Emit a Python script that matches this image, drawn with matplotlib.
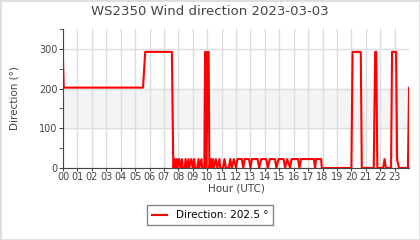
import matplotlib
matplotlib.use("Agg")
import matplotlib.pyplot as plt
from matplotlib.ticker import MultipleLocator

# wind direction readings, hour of day vs degrees
hours = [0.0, 0.05, 5.55, 5.7, 7.55, 7.65,
         7.75, 7.8, 7.9, 7.95, 8.05, 8.15, 8.25, 8.3, 8.45, 8.5, 8.6, 8.7,
         8.75, 8.9, 9.0, 9.1, 9.15, 9.3, 9.4, 9.45, 9.6, 9.65, 9.8,
         9.85, 9.9, 9.95, 10.05, 10.1, 10.15,
         10.25, 10.3, 10.4, 10.45, 10.6, 10.7, 10.85, 10.9, 11.1, 11.2, 11.3,
         11.5, 11.6, 11.7, 11.85, 12.0, 12.1, 12.4, 12.5, 12.6, 12.9, 13.0,
         13.1, 13.5, 13.6, 13.75, 14.1, 14.2, 14.35, 14.7, 14.8, 14.95, 15.3,
         15.4, 15.55, 15.75, 15.85, 16.3, 16.4, 16.5, 17.4, 17.48, 17.55,
         17.9, 17.95, 20.0, 20.08, 20.65, 20.72, 21.55, 21.65, 21.72, 21.8,
         21.88, 22.2, 22.3, 22.4, 22.75, 22.82, 23.1, 23.17, 23.3, 23.92, 24.0]
direction = [270, 202.5, 202.5, 292.5, 292.5, 0,
             22.5, 0, 22.5, 0, 22.5, 0, 22.5, 0, 0, 22.5, 0, 22.5,
             0, 22.5, 0, 22.5, 0, 0, 22.5, 0, 22.5, 0, 0,
             292.5, 292.5, 0, 292.5, 292.5, 0,
             22.5, 0, 22.5, 0, 22.5, 0, 22.5, 0, 0, 22.5, 0,
             0, 22.5, 0, 22.5, 0, 22.5, 22.5, 0, 22.5, 22.5, 0,
             22.5, 22.5, 0, 22.5, 22.5, 0, 22.5, 22.5, 0, 22.5, 22.5,
             0, 22.5, 0, 22.5, 22.5, 0, 22.5, 22.5, 0, 22.5,
             22.5, 0, 0, 292.5, 292.5, 0, 0, 292.5, 292.5, 0,
             0, 0, 22.5, 0, 0, 292.5, 292.5, 22.5, 0, 0, 202.5]
hour_labels = ["%02d" % h for h in range(24)]
last_value = 202.5

fig = plt.figure(figsize=(4.2, 2.4), dpi=100)
fig.patches.append(plt.Rectangle((0, 0), 1, 1, transform=fig.transFigure,
                                 fill=False, edgecolor="#dddddd", linewidth=2))
ax = fig.add_axes([0.15, 0.30, 0.824, 0.579])

ax.axhspan(100, 200, color="#f4f4f4", zorder=0)
line, = ax.plot(hours, direction, color="#ff0000", linewidth=1.5)

ax.set_xlim(0, 24)
ax.set_ylim(0, 350)
ax.set_xticks(range(24))
ax.set_xticklabels(hour_labels)
ax.yaxis.set_major_locator(MultipleLocator(100))
ax.yaxis.set_minor_locator(MultipleLocator(50))
ax.tick_params(axis="both", which="both", labelsize=7, colors="#444444",
               length=3, pad=1)
ax.tick_params(axis="x", length=2)
ax.grid(True, which="major", color="#dddddd", linewidth=1)
ax.set_axisbelow(True)
for s in ["top", "right"]:
    ax.spines[s].set_visible(False)
for s in ["left", "bottom"]:
    ax.spines[s].set_color("#444444")

fig.text(0.5, 0.954, "WS2350 Wind direction 2023-03-03", fontsize=9.5,
         color="#444444", ha="center", va="center")
ax.set_xlabel("Hour (UTC)", fontsize=7.5, color="#444444", labelpad=1)
ax.set_ylabel("Direction (°)", fontsize=7.5, color="#444444", labelpad=14)

leg = fig.legend([line], ["Direction: %.1f °" % last_value], loc="upper center",
                 bbox_to_anchor=(0.5, 0.146), borderaxespad=0, fontsize=7.5,
                 frameon=True, fancybox=False, edgecolor="#666666",
                 handlelength=1.5, borderpad=0.5)
leg.get_frame().set_linewidth(1)

fig.savefig("out.png", dpi=100)
